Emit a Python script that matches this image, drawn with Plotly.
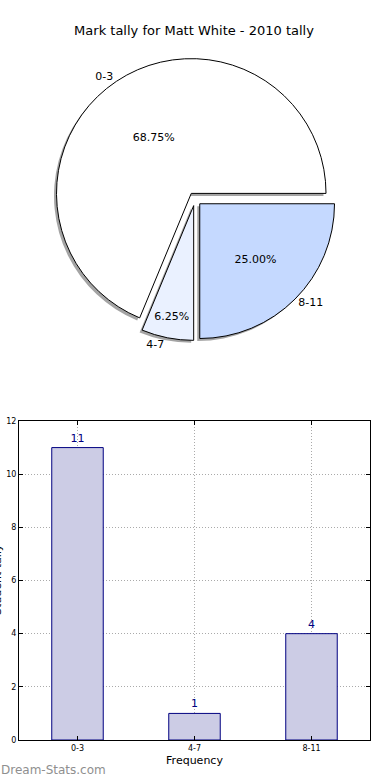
import plotly.graph_objects as go

title = "Mark tally for Matt White - 2010 tally"
categories = ["0-3", "4-7", "8-11"]
counts = [11, 1, 4]
pie_colors = ["#FFFFFF", "#EAF1FF", "#C5D9FF"]
y_ticks = [0, 2, 4, 6, 8, 10, 12]

W, H = 390, 780
FONT = "DejaVu Sans"

# pie geometry (paper fractions)
px0, px1 = 53.5 / W, 336.5 / W
py0, py1 = 1 - 340.5 / H, 1 - 57.5 / H
sdx, sdy = 2.5 / W, 2.5 / H
pull = [0.05, 0.05, 0.05]
ROT = 202.5  # first slice starts at 3 o'clock, going counterclockwise

fig = go.Figure()

# shadow
fig.add_trace(go.Pie(
    labels=categories, values=counts, sort=False, direction="counterclockwise", rotation=ROT,
    pull=pull, domain=dict(x=[px0 - sdx, px1 - sdx], y=[py0 - sdy, py1 - sdy]),
    marker=dict(colors=["rgba(90,90,90,0.55)"] * 3, line=dict(width=0)),
    textinfo="none", hoverinfo="skip", showlegend=False,
))
# main pie with percentages inside
fig.add_trace(go.Pie(
    labels=categories, values=counts, sort=False, direction="counterclockwise", rotation=ROT,
    pull=pull, domain=dict(x=[px0, px1], y=[py0, py1]),
    marker=dict(colors=pie_colors, line=dict(color="black", width=1)),
    texttemplate="%{percent:.2%}", textposition="inside", insidetextorientation="horizontal",
    textfont=dict(family=FONT, size=11, color="black"),
    hoverinfo="label+percent", showlegend=False,
))
# labels outside
fig.add_trace(go.Pie(
    labels=categories, values=counts, sort=False, direction="counterclockwise", rotation=ROT,
    pull=pull, domain=dict(x=[px0, px1], y=[py0, py1]),
    marker=dict(colors=["rgba(0,0,0,0)"] * 3, line=dict(width=0)),
    texttemplate="%{label}", textposition="outside",
    textfont=dict(family=FONT, size=11, color="black"),
    hoverinfo="skip", showlegend=False,
))

# bar chart
fig.add_trace(go.Bar(
    x=categories, y=counts, width=0.44,
    marker=dict(color="#CCCCE5", line=dict(color="#000080", width=1)),
    text=[str(c) for c in counts], textposition="outside",
    textfont=dict(family=FONT, size=11, color="#000080"),
    cliponaxis=False, showlegend=False, xaxis="x", yaxis="y",
))

grid = dict(showgrid=True, gridcolor="#aaaaaa", griddash="1px,2px", gridwidth=1,
            showline=True, linecolor="black", linewidth=1, mirror="allticks",
            ticks="inside", ticklen=4, tickcolor="black",
            tickfont=dict(family=FONT, size=8, color="black"),
            zeroline=False, fixedrange=True)

fig.update_layout(
    width=W, height=H,
    margin=dict(l=0, r=0, t=0, b=0, autoexpand=False),
    paper_bgcolor="white", plot_bgcolor="white",
    font=dict(family=FONT, color="black"),
    title=dict(text=title, x=194 / W, xanchor="center", y=1 - 30 / H, yanchor="middle",
               font=dict(family=FONT, size=13, color="black")),
    uniformtext=dict(minsize=11, mode="show"),
    xaxis=dict(domain=[19 / W, 370 / W], anchor="y", range=[-0.5, 2.5],
               title=dict(text="Frequency", font=dict(family=FONT, size=11), standoff=4),
               **grid),
    yaxis=dict(domain=[1 - 740 / H, 1 - 421 / H], anchor="x", range=[0, 12],
               tickvals=y_ticks, **grid),
    annotations=[
        dict(text="Student tally", xref="paper", yref="paper", x=-3 / W, y=1 - 580 / H,
             textangle=-90, showarrow=False, xanchor="center", yanchor="middle",
             font=dict(family=FONT, size=11, color="black")),
        dict(text="Dream-Stats.com", xref="paper", yref="paper", x=-1 / W, y=1 - 770 / H,
             showarrow=False, xanchor="left", yanchor="middle",
             font=dict(family=FONT, size=12, color="#8f8f8f")),
    ],
)

fig.write_html("out.html", config={"displayModeBar": False},
               post_script="document.body.style.margin='0px';")
